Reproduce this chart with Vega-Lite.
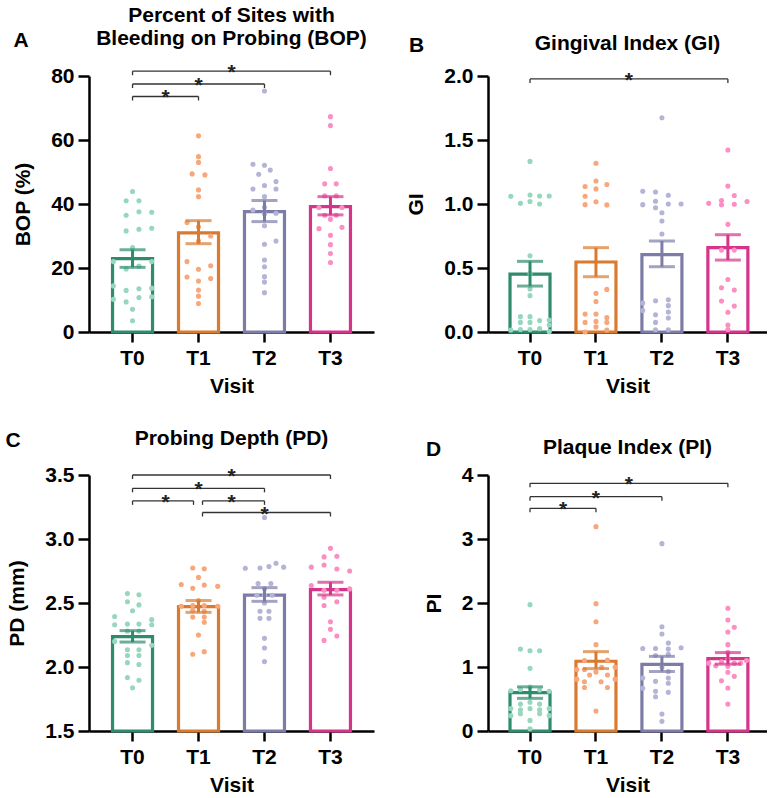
{
  "$schema": "https://vega.github.io/schema/vega-lite/v6.json",
  "padding": {"left": 5, "top": 5, "right": 0, "bottom": 0},
  "columns": 2,
  "bounds": "flush",
  "spacing": {"row": 143, "column": 114},
  "config": {
    "font": "Liberation Sans",
    "view": {"stroke": null},
    "axis": {"grid": false, "domainColor": "#000", "domainWidth": 2.5, "tickColor": "#000", "tickWidth": 2.5, "labelFont": "Liberation Sans", "labelFontSize": 21, "labelFontWeight": "bold", "labelColor": "#000", "titleFont": "Liberation Sans", "titleFontSize": 21, "titleFontWeight": "bold", "titleColor": "#000"},
    "axisX": {"tickSize": 10, "labelPadding": 5, "titlePadding": 7, "labelAngle": 0},
    "axisY": {"tickSize": 11, "labelPadding": 4, "titlePadding": 17},
    "title": {"font": "Liberation Sans", "fontSize": 21, "fontWeight": "bold", "color": "#000", "anchor": "middle", "frame": "group", "offset": -19, "lineHeight": 23}
  },
  "datasets": {
    "A_sum": [
      {"visit": "T0", "mean": 22.9, "lo": 20.2, "hi": 25.7},
      {"visit": "T1", "mean": 31.0, "lo": 27.6, "hi": 34.8},
      {"visit": "T2", "mean": 37.6, "lo": 34.5, "hi": 41.1},
      {"visit": "T3", "mean": 39.2, "lo": 36.6, "hi": 42.3}
    ],
    "A_br": [
      {"visit": "T0", "visit2": "T1", "level": 73.6, "mid": "T0.5"},
      {"visit": "T0", "visit2": "T2", "level": 77.5, "mid": "T1"},
      {"visit": "T0", "visit2": "T3", "level": 81.5, "mid": "T1.5"}
    ],
    "A_pts": [
      {"visit": "T0", "value": 43.9, "slot": 0}, {"visit": "T0", "value": 41.0, "slot": -1}, {"visit": "T0", "value": 41.0, "slot": 1},
      {"visit": "T0", "value": 36.5, "slot": -1}, {"visit": "T0", "value": 37.6, "slot": 1}, {"visit": "T0", "value": 37.4, "slot": 3},
      {"visit": "T0", "value": 31.6, "slot": -1}, {"visit": "T0", "value": 32.1, "slot": 1}, {"visit": "T0", "value": 32.4, "slot": 3},
      {"visit": "T0", "value": 26.4, "slot": 0}, {"visit": "T0", "value": 22.0, "slot": -3}, {"visit": "T0", "value": 22.0, "slot": 3},
      {"visit": "T0", "value": 19.7, "slot": -1}, {"visit": "T0", "value": 20.6, "slot": 1}, {"visit": "T0", "value": 14.4, "slot": -3},
      {"visit": "T0", "value": 13.7, "slot": 3}, {"visit": "T0", "value": 13.0, "slot": -1}, {"visit": "T0", "value": 13.5, "slot": 1},
      {"visit": "T0", "value": 10.2, "slot": -3}, {"visit": "T0", "value": 11.0, "slot": 3}, {"visit": "T0", "value": 9.4, "slot": -1},
      {"visit": "T0", "value": 10.8, "slot": 1}, {"visit": "T0", "value": 7.1, "slot": 0}, {"visit": "T0", "value": 3.5, "slot": 0},
      {"visit": "T1", "value": 61.3, "slot": 0}, {"visit": "T1", "value": 54.8, "slot": 0}, {"visit": "T1", "value": 53.0, "slot": 0},
      {"visit": "T1", "value": 49.4, "slot": -1}, {"visit": "T1", "value": 49.1, "slot": 1}, {"visit": "T1", "value": 44.4, "slot": 0},
      {"visit": "T1", "value": 42.3, "slot": 0}, {"visit": "T1", "value": 34.2, "slot": -1.8}, {"visit": "T1", "value": 32.9, "slot": 0},
      {"visit": "T1", "value": 30.0, "slot": 1.9}, {"visit": "T1", "value": 28.4, "slot": 0}, {"visit": "T1", "value": 22.0, "slot": -1.8},
      {"visit": "T1", "value": 20.7, "slot": 1.9}, {"visit": "T1", "value": 19.6, "slot": 0}, {"visit": "T1", "value": 17.2, "slot": -1.8},
      {"visit": "T1", "value": 16.7, "slot": 1.9}, {"visit": "T1", "value": 15.9, "slot": 0}, {"visit": "T1", "value": 13.1, "slot": 0},
      {"visit": "T1", "value": 11.2, "slot": 0}, {"visit": "T1", "value": 8.9, "slot": 0},
      {"visit": "T2", "value": 75.3, "slot": 0}, {"visit": "T2", "value": 52.4, "slot": -1.8}, {"visit": "T2", "value": 52.1, "slot": 0},
      {"visit": "T2", "value": 50.6, "slot": 0.9}, {"visit": "T2", "value": 49.3, "slot": -0.9}, {"visit": "T2", "value": 47.0, "slot": 1.8},
      {"visit": "T2", "value": 45.8, "slot": 0}, {"visit": "T2", "value": 44.7, "slot": -1.8}, {"visit": "T2", "value": 44.7, "slot": 1.8},
      {"visit": "T2", "value": 42.3, "slot": 0}, {"visit": "T2", "value": 39.0, "slot": 0}, {"visit": "T2", "value": 38.1, "slot": -1.8},
      {"visit": "T2", "value": 36.9, "slot": 0}, {"visit": "T2", "value": 37.1, "slot": 1.8}, {"visit": "T2", "value": 33.2, "slot": 0},
      {"visit": "T2", "value": 28.4, "slot": 1.8}, {"visit": "T2", "value": 27.4, "slot": 0}, {"visit": "T2", "value": 22.5, "slot": 0},
      {"visit": "T2", "value": 20.4, "slot": 0}, {"visit": "T2", "value": 17.3, "slot": 0}, {"visit": "T2", "value": 15.6, "slot": 0},
      {"visit": "T2", "value": 12.3, "slot": 0},
      {"visit": "T3", "value": 67.3, "slot": 0}, {"visit": "T3", "value": 64.5, "slot": 0}, {"visit": "T3", "value": 51.1, "slot": 0},
      {"visit": "T3", "value": 46.3, "slot": -0.9}, {"visit": "T3", "value": 46.3, "slot": 0.9}, {"visit": "T3", "value": 42.6, "slot": -0.9},
      {"visit": "T3", "value": 42.6, "slot": 0.9}, {"visit": "T3", "value": 38.9, "slot": -1.8}, {"visit": "T3", "value": 38.9, "slot": 1.8},
      {"visit": "T3", "value": 36.5, "slot": -0.9}, {"visit": "T3", "value": 36.5, "slot": 0.9}, {"visit": "T3", "value": 35.2, "slot": 0},
      {"visit": "T3", "value": 32.3, "slot": -1.8}, {"visit": "T3", "value": 32.7, "slot": 1.8}, {"visit": "T3", "value": 30.2, "slot": 0},
      {"visit": "T3", "value": 27.3, "slot": 0}, {"visit": "T3", "value": 24.5, "slot": 0}, {"visit": "T3", "value": 21.7, "slot": 0}
    ],
    "B_sum": [
      {"visit": "T0", "mean": 0.452, "lo": 0.359, "hi": 0.552},
      {"visit": "T1", "mean": 0.547, "lo": 0.432, "hi": 0.659},
      {"visit": "T2", "mean": 0.605, "lo": 0.51, "hi": 0.711},
      {"visit": "T3", "mean": 0.659, "lo": 0.562, "hi": 0.76}
    ],
    "B_br": [
      {"visit": "T0", "visit2": "T3", "level": 1.977, "mid": "T1.5"}
    ],
    "B_pts": [
      {"visit": "T0", "value": 1.333, "slot": 0}, {"visit": "T0", "value": 1.06, "slot": -3}, {"visit": "T0", "value": 1.07, "slot": 0},
      {"visit": "T0", "value": 1.063, "slot": 1.5}, {"visit": "T0", "value": 1.063, "slot": 3}, {"visit": "T0", "value": 1.005, "slot": -1.5},
      {"visit": "T0", "value": 1.02, "slot": 0}, {"visit": "T0", "value": 1.0, "slot": 1.5}, {"visit": "T0", "value": 0.596, "slot": 0},
      {"visit": "T0", "value": 0.458, "slot": 0}, {"visit": "T0", "value": 0.336, "slot": 0}, {"visit": "T0", "value": 0.284, "slot": 0},
      {"visit": "T0", "value": 0.12, "slot": -1.5}, {"visit": "T0", "value": 0.12, "slot": 0}, {"visit": "T0", "value": 0.089, "slot": 1.5},
      {"visit": "T0", "value": 0.094, "slot": 3}, {"visit": "T0", "value": 0.075, "slot": -1.5}, {"visit": "T0", "value": 0.075, "slot": 0},
      {"visit": "T0", "value": 0.055, "slot": 3}, {"visit": "T0", "value": 0.016, "slot": -3}, {"visit": "T0", "value": 0.02, "slot": -1.5},
      {"visit": "T0", "value": 0.02, "slot": 0}, {"visit": "T0", "value": 0.026, "slot": 1.5}, {"visit": "T0", "value": 0.003, "slot": 3},
      {"visit": "T1", "value": 1.318, "slot": 0}, {"visit": "T1", "value": 1.18, "slot": 0}, {"visit": "T1", "value": 1.137, "slot": -1.7},
      {"visit": "T1", "value": 1.118, "slot": 0}, {"visit": "T1", "value": 1.152, "slot": 1.7}, {"visit": "T1", "value": 1.06, "slot": -1.7},
      {"visit": "T1", "value": 1.018, "slot": 0}, {"visit": "T1", "value": 0.995, "slot": -1.7}, {"visit": "T1", "value": 0.993, "slot": 1.7},
      {"visit": "T1", "value": 0.333, "slot": 1.7}, {"visit": "T1", "value": 0.302, "slot": 0}, {"visit": "T1", "value": 0.238, "slot": 0},
      {"visit": "T1", "value": 0.14, "slot": -1.7}, {"visit": "T1", "value": 0.14, "slot": 0}, {"visit": "T1", "value": 0.112, "slot": 1.7},
      {"visit": "T1", "value": 0.075, "slot": -1.7}, {"visit": "T1", "value": 0.083, "slot": 0}, {"visit": "T1", "value": 0.075, "slot": 1.7},
      {"visit": "T1", "value": 0.0, "slot": -1.7}, {"visit": "T1", "value": 0.04, "slot": 0}, {"visit": "T1", "value": 0.016, "slot": 1.7},
      {"visit": "T2", "value": 1.674, "slot": 0}, {"visit": "T2", "value": 1.10, "slot": -3}, {"visit": "T2", "value": 1.094, "slot": -1},
      {"visit": "T2", "value": 1.068, "slot": 1}, {"visit": "T2", "value": 0.995, "slot": -3}, {"visit": "T2", "value": 1.021, "slot": -1},
      {"visit": "T2", "value": 1.0, "slot": 1}, {"visit": "T2", "value": 1.0, "slot": 3}, {"visit": "T2", "value": 0.971, "slot": -1},
      {"visit": "T2", "value": 0.932, "slot": 0}, {"visit": "T2", "value": 0.867, "slot": 0}, {"visit": "T2", "value": 0.766, "slot": 0},
      {"visit": "T2", "value": 0.226, "slot": -3}, {"visit": "T2", "value": 0.244, "slot": -1}, {"visit": "T2", "value": 0.252, "slot": 1},
      {"visit": "T2", "value": 0.206, "slot": 1}, {"visit": "T2", "value": 0.167, "slot": -3}, {"visit": "T2", "value": 0.135, "slot": -1},
      {"visit": "T2", "value": 0.156, "slot": 1}, {"visit": "T2", "value": 0.109, "slot": 1}, {"visit": "T2", "value": 0.075, "slot": -1},
      {"visit": "T2", "value": 0.018, "slot": -1}, {"visit": "T2", "value": 0.018, "slot": 1},
      {"visit": "T3", "value": 1.422, "slot": 0}, {"visit": "T3", "value": 1.14, "slot": 0}, {"visit": "T3", "value": 1.066, "slot": 1},
      {"visit": "T3", "value": 1.027, "slot": -1}, {"visit": "T3", "value": 1.005, "slot": -3}, {"visit": "T3", "value": 0.998, "slot": 1},
      {"visit": "T3", "value": 1.019, "slot": 3}, {"visit": "T3", "value": 0.994, "slot": -1}, {"visit": "T3", "value": 0.841, "slot": 0},
      {"visit": "T3", "value": 0.64, "slot": -1}, {"visit": "T3", "value": 0.64, "slot": 1}, {"visit": "T3", "value": 0.41, "slot": 0},
      {"visit": "T3", "value": 0.346, "slot": -1}, {"visit": "T3", "value": 0.328, "slot": 1}, {"visit": "T3", "value": 0.242, "slot": -1},
      {"visit": "T3", "value": 0.203, "slot": 1}, {"visit": "T3", "value": 0.154, "slot": 0}, {"visit": "T3", "value": 0.055, "slot": 0},
      {"visit": "T3", "value": 0.02, "slot": 0}
    ],
    "C_sum": [
      {"visit": "T0", "mean": 2.238, "lo": 2.195, "hi": 2.284},
      {"visit": "T1", "mean": 2.472, "lo": 2.427, "hi": 2.519},
      {"visit": "T2", "mean": 2.562, "lo": 2.513, "hi": 2.62},
      {"visit": "T3", "mean": 2.605, "lo": 2.563, "hi": 2.662}
    ],
    "C_br": [
      {"visit": "T0", "visit2": "T3", "level": 3.5, "mid": "T1.5"},
      {"visit": "T0", "visit2": "T2", "level": 3.396, "mid": "T1"},
      {"visit": "T0", "visit2": "T1", "level": 3.298, "mid": "T0.5"},
      {"visit": "T1", "visit2": "T2", "level": 3.298, "mid": "T1.5"},
      {"visit": "T1", "visit2": "T3", "level": 3.207, "mid": "T2"}
    ],
    "C_pts": [
      {"visit": "T0", "value": 2.574, "slot": -0.8}, {"visit": "T0", "value": 2.564, "slot": 1}, {"visit": "T0", "value": 2.51, "slot": -0.8},
      {"visit": "T0", "value": 2.485, "slot": 1}, {"visit": "T0", "value": 2.44, "slot": 0}, {"visit": "T0", "value": 2.395, "slot": -2.8},
      {"visit": "T0", "value": 2.37, "slot": 3}, {"visit": "T0", "value": 2.335, "slot": -0.8}, {"visit": "T0", "value": 2.335, "slot": 1},
      {"visit": "T0", "value": 2.33, "slot": -2.8}, {"visit": "T0", "value": 2.33, "slot": 3}, {"visit": "T0", "value": 2.28, "slot": -0.8},
      {"visit": "T0", "value": 2.28, "slot": 1}, {"visit": "T0", "value": 2.2, "slot": -2.8}, {"visit": "T0", "value": 2.17, "slot": 3},
      {"visit": "T0", "value": 2.135, "slot": -0.8}, {"visit": "T0", "value": 2.135, "slot": 1}, {"visit": "T0", "value": 2.09, "slot": -0.8},
      {"visit": "T0", "value": 2.09, "slot": 1}, {"visit": "T0", "value": 2.034, "slot": -0.8}, {"visit": "T0", "value": 2.02, "slot": 1},
      {"visit": "T0", "value": 1.918, "slot": -0.8}, {"visit": "T0", "value": 1.897, "slot": 1}, {"visit": "T0", "value": 1.837, "slot": 0},
      {"visit": "T1", "value": 2.774, "slot": -0.9}, {"visit": "T1", "value": 2.768, "slot": 0.9}, {"visit": "T1", "value": 2.70, "slot": 0},
      {"visit": "T1", "value": 2.644, "slot": -2.7}, {"visit": "T1", "value": 2.615, "slot": -0.9}, {"visit": "T1", "value": 2.64, "slot": 0.9},
      {"visit": "T1", "value": 2.63, "slot": 3}, {"visit": "T1", "value": 2.52, "slot": 0}, {"visit": "T1", "value": 2.475, "slot": -2.7},
      {"visit": "T1", "value": 2.48, "slot": -0.9}, {"visit": "T1", "value": 2.48, "slot": 0.9}, {"visit": "T1", "value": 2.475, "slot": 3},
      {"visit": "T1", "value": 2.444, "slot": -0.9}, {"visit": "T1", "value": 2.436, "slot": 0.9}, {"visit": "T1", "value": 2.39, "slot": -0.9},
      {"visit": "T1", "value": 2.39, "slot": 0.9}, {"visit": "T1", "value": 2.35, "slot": 0.9}, {"visit": "T1", "value": 2.25, "slot": 0},
      {"visit": "T1", "value": 2.10, "slot": -0.9}, {"visit": "T1", "value": 2.12, "slot": 0.9},
      {"visit": "T2", "value": 3.168, "slot": 0}, {"visit": "T2", "value": 2.771, "slot": -3}, {"visit": "T2", "value": 2.774, "slot": -0.7},
      {"visit": "T2", "value": 2.785, "slot": 0.7}, {"visit": "T2", "value": 2.81, "slot": 1.8}, {"visit": "T2", "value": 2.78, "slot": 3},
      {"visit": "T2", "value": 2.652, "slot": -1}, {"visit": "T2", "value": 2.652, "slot": 1}, {"visit": "T2", "value": 2.61, "slot": 0},
      {"visit": "T2", "value": 2.56, "slot": -1.2}, {"visit": "T2", "value": 2.56, "slot": 0}, {"visit": "T2", "value": 2.56, "slot": 1.2},
      {"visit": "T2", "value": 2.50, "slot": 0}, {"visit": "T2", "value": 2.436, "slot": -0.7}, {"visit": "T2", "value": 2.436, "slot": 0.7},
      {"visit": "T2", "value": 2.38, "slot": -0.7}, {"visit": "T2", "value": 2.38, "slot": 0.7}, {"visit": "T2", "value": 2.224, "slot": 0},
      {"visit": "T2", "value": 2.149, "slot": 0}, {"visit": "T2", "value": 2.042, "slot": 0},
      {"visit": "T3", "value": 2.927, "slot": 0}, {"visit": "T3", "value": 2.86, "slot": -1}, {"visit": "T3", "value": 2.865, "slot": 1},
      {"visit": "T3", "value": 2.78, "slot": -3}, {"visit": "T3", "value": 2.797, "slot": -1}, {"visit": "T3", "value": 2.766, "slot": 1},
      {"visit": "T3", "value": 2.75, "slot": 3}, {"visit": "T3", "value": 2.636, "slot": -3}, {"visit": "T3", "value": 2.60, "slot": -1},
      {"visit": "T3", "value": 2.60, "slot": 1}, {"visit": "T3", "value": 2.61, "slot": 3}, {"visit": "T3", "value": 2.545, "slot": -1},
      {"visit": "T3", "value": 2.51, "slot": 1}, {"visit": "T3", "value": 2.48, "slot": -1}, {"visit": "T3", "value": 2.353, "slot": 0},
      {"visit": "T3", "value": 2.294, "slot": 0}, {"visit": "T3", "value": 2.242, "slot": 1}, {"visit": "T3", "value": 2.208, "slot": -1}
    ],
    "D_sum": [
      {"visit": "T0", "mean": 0.6, "lo": 0.51, "hi": 0.69},
      {"visit": "T1", "mean": 1.09, "lo": 0.975, "hi": 1.24},
      {"visit": "T2", "mean": 1.04, "lo": 0.93, "hi": 1.166},
      {"visit": "T3", "mean": 1.132, "lo": 1.045, "hi": 1.225}
    ],
    "D_br": [
      {"visit": "T0", "visit2": "T1", "level": 3.48, "mid": "T0.5"},
      {"visit": "T0", "visit2": "T2", "level": 3.662, "mid": "T1"},
      {"visit": "T0", "visit2": "T3", "level": 3.87, "mid": "T1.5"}
    ],
    "D_pts": [
      {"visit": "T0", "value": 1.974, "slot": 0}, {"visit": "T0", "value": 1.28, "slot": -1.5}, {"visit": "T0", "value": 1.255, "slot": 0},
      {"visit": "T0", "value": 1.255, "slot": 1.5}, {"visit": "T0", "value": 0.979, "slot": 0}, {"visit": "T0", "value": 0.63, "slot": -3},
      {"visit": "T0", "value": 0.687, "slot": 0}, {"visit": "T0", "value": 0.65, "slot": -1.5}, {"visit": "T0", "value": 0.62, "slot": 3},
      {"visit": "T0", "value": 0.64, "slot": 1.5}, {"visit": "T0", "value": 0.45, "slot": 0}, {"visit": "T0", "value": 0.42, "slot": -1.5},
      {"visit": "T0", "value": 0.42, "slot": 1.5}, {"visit": "T0", "value": 0.35, "slot": -3}, {"visit": "T0", "value": 0.35, "slot": 0},
      {"visit": "T0", "value": 0.35, "slot": 3}, {"visit": "T0", "value": 0.33, "slot": -1.5}, {"visit": "T0", "value": 0.33, "slot": 1.5},
      {"visit": "T0", "value": 0.24, "slot": -3}, {"visit": "T0", "value": 0.27, "slot": -1.5}, {"visit": "T0", "value": 0.27, "slot": 1.5},
      {"visit": "T0", "value": 0.24, "slot": 3}, {"visit": "T0", "value": 0.166, "slot": 0}, {"visit": "T0", "value": 0.036, "slot": 0},
      {"visit": "T1", "value": 3.193, "slot": 0}, {"visit": "T1", "value": 1.99, "slot": 0}, {"visit": "T1", "value": 1.708, "slot": 0},
      {"visit": "T1", "value": 1.349, "slot": 0}, {"visit": "T1", "value": 1.10, "slot": -1.8}, {"visit": "T1", "value": 1.11, "slot": 1.8},
      {"visit": "T1", "value": 0.96, "slot": -3}, {"visit": "T1", "value": 0.96, "slot": -1.8}, {"visit": "T1", "value": 0.995, "slot": 0.9},
      {"visit": "T1", "value": 0.995, "slot": 3}, {"visit": "T1", "value": 0.92, "slot": 0}, {"visit": "T1", "value": 0.875, "slot": -1},
      {"visit": "T1", "value": 0.875, "slot": 1.8}, {"visit": "T1", "value": 0.81, "slot": -3}, {"visit": "T1", "value": 0.81, "slot": 3},
      {"visit": "T1", "value": 0.77, "slot": -1.8}, {"visit": "T1", "value": 0.77, "slot": 0.8}, {"visit": "T1", "value": 0.68, "slot": -1.8},
      {"visit": "T1", "value": 0.68, "slot": 1.8}, {"visit": "T1", "value": 0.312, "slot": 0},
      {"visit": "T2", "value": 2.927, "slot": 0}, {"visit": "T2", "value": 1.63, "slot": 0}, {"visit": "T2", "value": 1.516, "slot": 0},
      {"visit": "T2", "value": 1.375, "slot": 1}, {"visit": "T2", "value": 1.29, "slot": -3}, {"visit": "T2", "value": 1.29, "slot": -1},
      {"visit": "T2", "value": 1.30, "slot": 3}, {"visit": "T2", "value": 1.28, "slot": 1}, {"visit": "T2", "value": 1.18, "slot": -1},
      {"visit": "T2", "value": 1.20, "slot": 1}, {"visit": "T2", "value": 1.0, "slot": 0}, {"visit": "T2", "value": 0.93, "slot": 1},
      {"visit": "T2", "value": 0.828, "slot": -3}, {"visit": "T2", "value": 0.828, "slot": 1}, {"visit": "T2", "value": 0.776, "slot": -1},
      {"visit": "T2", "value": 0.745, "slot": 1}, {"visit": "T2", "value": 0.667, "slot": -3}, {"visit": "T2", "value": 0.62, "slot": -1},
      {"visit": "T2", "value": 0.604, "slot": 1}, {"visit": "T2", "value": 0.536, "slot": -1}, {"visit": "T2", "value": 0.266, "slot": 0},
      {"visit": "T2", "value": 0.151, "slot": 0},
      {"visit": "T3", "value": 1.917, "slot": 0}, {"visit": "T3", "value": 1.734, "slot": 0}, {"visit": "T3", "value": 1.62, "slot": 1},
      {"visit": "T3", "value": 1.547, "slot": 0}, {"visit": "T3", "value": 1.349, "slot": 0}, {"visit": "T3", "value": 1.23, "slot": 0},
      {"visit": "T3", "value": 1.10, "slot": 2.9}, {"visit": "T3", "value": 1.06, "slot": -3}, {"visit": "T3", "value": 1.02, "slot": -1.9},
      {"visit": "T3", "value": 1.083, "slot": -1}, {"visit": "T3", "value": 1.06, "slot": 1}, {"visit": "T3", "value": 1.06, "slot": 2},
      {"visit": "T3", "value": 1.125, "slot": 0}, {"visit": "T3", "value": 1.01, "slot": 0}, {"visit": "T3", "value": 0.917, "slot": 0},
      {"visit": "T3", "value": 0.854, "slot": 1}, {"visit": "T3", "value": 0.786, "slot": -1}, {"visit": "T3", "value": 0.672, "slot": 0},
      {"visit": "T3", "value": 0.42, "slot": 0}
    ]
  },
  "concat": [
    {
      "width": 285, "height": 256,
      "title": {"text": ["Percent of Sites with", "Bleeding on Probing (BOP)"]},
      "layer": [
        {"data": {"name": "A_sum"}, "mark": {"type": "bar", "width": 40, "fill": "white", "strokeWidth": 3.2},
         "encoding": {
           "x": {"field": "visit", "type": "nominal", "title": "Visit", "scale": {"domain": ["T0","T0.5","T1","T1.5","T2","T2.5","T3"], "paddingInner": 0, "paddingOuter": 0.82, "align": 0.5}, "axis": {"values": ["T0","T1","T2","T3"]}},
           "y": {"field": "mean", "type": "quantitative", "title": "BOP (%)", "scale": {"domain": [0, 80], "nice": false}, "axis": {"values": [0,20,40,60,80]}},
           "stroke": {"field": "visit", "type": "nominal", "scale": {"domain": ["T0","T1","T2","T3"], "range": ["#2e8b6e","#d97a2f","#7c7ca8","#d6338a"]}, "legend": null}}},
        {"data": {"name": "A_pts"}, "mark": {"type": "point", "filled": true, "size": 26, "opacity": 1},
         "encoding": {
           "x": {"field": "visit", "type": "nominal", "title": "Visit"},
           "xOffset": {"field": "slot", "type": "quantitative", "scale": {"domain": [-2.58, 2.58]}},
           "y": {"field": "value", "type": "quantitative", "title": "BOP (%)"},
           "fill": {"field": "visit", "type": "nominal", "scale": {"domain": ["T0","T1","T2","T3"], "range": ["#97d7bd","#f8a67b","#b4b4d6","#fb8fc3"]}, "legend": null}}},
        {"data": {"name": "A_sum"}, "mark": {"type": "rule", "strokeWidth": 3},
         "encoding": {
           "x": {"field": "visit", "type": "nominal", "title": "Visit"},
           "y": {"field": "lo", "type": "quantitative", "title": "BOP (%)"}, "y2": {"field": "hi"},
           "stroke": {"field": "visit", "type": "nominal", "legend": null}}},
        {"data": {"name": "A_sum"}, "mark": {"type": "tick", "size": 26, "thickness": 3},
         "encoding": {
           "x": {"field": "visit", "type": "nominal", "title": "Visit"},
           "y": {"field": "lo", "type": "quantitative", "title": "BOP (%)"},
           "color": {"field": "visit", "type": "nominal", "scale": {"domain": ["T0","T1","T2","T3"], "range": ["#2e8b6e","#d97a2f","#7c7ca8","#d6338a"]}, "legend": null}}},
        {"data": {"name": "A_sum"}, "mark": {"type": "tick", "size": 26, "thickness": 3},
         "encoding": {
           "x": {"field": "visit", "type": "nominal", "title": "Visit"},
           "y": {"field": "hi", "type": "quantitative", "title": "BOP (%)"},
           "color": {"field": "visit", "type": "nominal", "legend": null}}},
        {"data": {"name": "A_br"}, "mark": {"type": "rule", "strokeWidth": 1.3, "color": "#333"},
         "encoding": {
           "x": {"field": "visit", "type": "nominal", "title": "Visit"}, "x2": {"field": "visit2"},
           "y": {"field": "level", "type": "quantitative", "title": "BOP (%)"}}},
        {"data": {"name": "A_br"}, "mark": {"type": "rule", "strokeWidth": 1.3, "color": "#333", "y2Offset": 4},
         "encoding": {
           "x": {"field": "visit", "type": "nominal", "title": "Visit"},
           "y": {"field": "level", "type": "quantitative", "title": "BOP (%)"}, "y2": {"field": "level"}}},
        {"data": {"name": "A_br"}, "mark": {"type": "rule", "strokeWidth": 1.3, "color": "#333", "y2Offset": 4},
         "encoding": {
           "x": {"field": "visit2", "type": "nominal", "title": "Visit"},
           "y": {"field": "level", "type": "quantitative", "title": "BOP (%)"}, "y2": {"field": "level"}}},
        {"data": {"name": "A_br"}, "mark": {"type": "text", "text": "*", "fontSize": 21, "fontWeight": "bold", "baseline": "alphabetic", "dy": 8, "color": "#222"},
         "encoding": {
           "x": {"field": "mid", "type": "nominal", "title": "Visit"},
           "y": {"field": "level", "type": "quantitative", "title": "BOP (%)"}}},
        {"data": {"values": [{"t": "A"}]}, "mark": {"type": "text", "align": "left", "baseline": "alphabetic", "dx": -119, "dy": -29, "fontSize": 21, "fontWeight": "bold", "color": "#000"},
         "encoding": {
           "x": {"datum": "T0", "type": "nominal", "title": "Visit"},
           "y": {"datum": 80, "type": "quantitative", "title": "BOP (%)"},
           "text": {"field": "t"}}}
      ]
    },
    {
      "width": 279, "height": 256,
      "title": {"text": "Gingival Index (GI)"},
      "layer": [
        {"data": {"name": "B_sum"}, "mark": {"type": "bar", "width": 40, "fill": "white", "strokeWidth": 3.2},
         "encoding": {
           "x": {"field": "visit", "type": "nominal", "title": "Visit", "scale": {"domain": ["T0","T0.5","T1","T1.5","T2","T2.5","T3"], "paddingInner": 0, "paddingOuter": 0.73, "align": 0.53}, "axis": {"values": ["T0","T1","T2","T3"]}},
           "y": {"field": "mean", "type": "quantitative", "title": "GI", "scale": {"domain": [0, 2], "nice": false}, "axis": {"values": [0,0.5,1,1.5,2], "format": ".1f"}},
           "stroke": {"field": "visit", "type": "nominal", "scale": {"domain": ["T0","T1","T2","T3"], "range": ["#2e8b6e","#d97a2f","#7c7ca8","#d6338a"]}, "legend": null}}},
        {"data": {"name": "B_pts"}, "mark": {"type": "point", "filled": true, "size": 26, "opacity": 1},
         "encoding": {
           "x": {"field": "visit", "type": "nominal", "title": "Visit"},
           "xOffset": {"field": "slot", "type": "quantitative", "scale": {"domain": [-2.58, 2.58]}},
           "y": {"field": "value", "type": "quantitative", "title": "GI"},
           "fill": {"field": "visit", "type": "nominal", "scale": {"domain": ["T0","T1","T2","T3"], "range": ["#97d7bd","#f8a67b","#b4b4d6","#fb8fc3"]}, "legend": null}}},
        {"data": {"name": "B_sum"}, "mark": {"type": "rule", "strokeWidth": 3},
         "encoding": {
           "x": {"field": "visit", "type": "nominal", "title": "Visit"},
           "y": {"field": "lo", "type": "quantitative", "title": "GI"}, "y2": {"field": "hi"},
           "stroke": {"field": "visit", "type": "nominal", "legend": null}}},
        {"data": {"name": "B_sum"}, "mark": {"type": "tick", "size": 26, "thickness": 3},
         "encoding": {
           "x": {"field": "visit", "type": "nominal", "title": "Visit"},
           "y": {"field": "lo", "type": "quantitative", "title": "GI"},
           "color": {"field": "visit", "type": "nominal", "scale": {"domain": ["T0","T1","T2","T3"], "range": ["#2e8b6e","#d97a2f","#7c7ca8","#d6338a"]}, "legend": null}}},
        {"data": {"name": "B_sum"}, "mark": {"type": "tick", "size": 26, "thickness": 3},
         "encoding": {
           "x": {"field": "visit", "type": "nominal", "title": "Visit"},
           "y": {"field": "hi", "type": "quantitative", "title": "GI"},
           "color": {"field": "visit", "type": "nominal", "legend": null}}},
        {"data": {"name": "B_br"}, "mark": {"type": "rule", "strokeWidth": 1.3, "color": "#333"},
         "encoding": {
           "x": {"field": "visit", "type": "nominal", "title": "Visit"}, "x2": {"field": "visit2"},
           "y": {"field": "level", "type": "quantitative", "title": "GI"}}},
        {"data": {"name": "B_br"}, "mark": {"type": "rule", "strokeWidth": 1.3, "color": "#333", "y2Offset": 4},
         "encoding": {
           "x": {"field": "visit", "type": "nominal", "title": "Visit"},
           "y": {"field": "level", "type": "quantitative", "title": "GI"}, "y2": {"field": "level"}}},
        {"data": {"name": "B_br"}, "mark": {"type": "rule", "strokeWidth": 1.3, "color": "#333", "y2Offset": 4},
         "encoding": {
           "x": {"field": "visit2", "type": "nominal", "title": "Visit"},
           "y": {"field": "level", "type": "quantitative", "title": "GI"}, "y2": {"field": "level"}}},
        {"data": {"name": "B_br"}, "mark": {"type": "text", "text": "*", "fontSize": 21, "fontWeight": "bold", "baseline": "alphabetic", "dy": 8, "color": "#222"},
         "encoding": {
           "x": {"field": "mid", "type": "nominal", "title": "Visit"},
           "y": {"field": "level", "type": "quantitative", "title": "GI"}}},
        {"data": {"values": [{"t": "B"}]}, "mark": {"type": "text", "align": "left", "baseline": "alphabetic", "dx": -121, "dy": -24, "fontSize": 21, "fontWeight": "bold", "color": "#000"},
         "encoding": {
           "x": {"datum": "T0", "type": "nominal", "title": "Visit"},
           "y": {"datum": 2, "type": "quantitative", "title": "GI"},
           "text": {"field": "t"}}}
      ]
    },
    {
      "width": 285, "height": 256,
      "title": {"text": "Probing Depth (PD)"},
      "layer": [
        {"data": {"name": "C_sum"}, "mark": {"type": "bar", "width": 40, "fill": "white", "strokeWidth": 3.2},
         "encoding": {
           "x": {"field": "visit", "type": "nominal", "title": "Visit", "scale": {"domain": ["T0","T0.5","T1","T1.5","T2","T2.5","T3"], "paddingInner": 0, "paddingOuter": 0.82, "align": 0.5}, "axis": {"values": ["T0","T1","T2","T3"]}},
           "y": {"field": "mean", "type": "quantitative", "title": "PD (mm)", "scale": {"domain": [1.5, 3.5], "nice": false, "zero": false}, "axis": {"values": [1.5,2,2.5,3,3.5], "format": ".1f"}},
           "y2": {"datum": 1.5},
           "stroke": {"field": "visit", "type": "nominal", "scale": {"domain": ["T0","T1","T2","T3"], "range": ["#2e8b6e","#d97a2f","#7c7ca8","#d6338a"]}, "legend": null}}},
        {"data": {"name": "C_pts"}, "mark": {"type": "point", "filled": true, "size": 26, "opacity": 1},
         "encoding": {
           "x": {"field": "visit", "type": "nominal", "title": "Visit"},
           "xOffset": {"field": "slot", "type": "quantitative", "scale": {"domain": [-2.58, 2.58]}},
           "y": {"field": "value", "type": "quantitative", "title": "PD (mm)"},
           "fill": {"field": "visit", "type": "nominal", "scale": {"domain": ["T0","T1","T2","T3"], "range": ["#97d7bd","#f8a67b","#b4b4d6","#fb8fc3"]}, "legend": null}}},
        {"data": {"name": "C_sum"}, "mark": {"type": "rule", "strokeWidth": 3},
         "encoding": {
           "x": {"field": "visit", "type": "nominal", "title": "Visit"},
           "y": {"field": "lo", "type": "quantitative", "title": "PD (mm)"}, "y2": {"field": "hi"},
           "stroke": {"field": "visit", "type": "nominal", "legend": null}}},
        {"data": {"name": "C_sum"}, "mark": {"type": "tick", "size": 26, "thickness": 3},
         "encoding": {
           "x": {"field": "visit", "type": "nominal", "title": "Visit"},
           "y": {"field": "lo", "type": "quantitative", "title": "PD (mm)"},
           "color": {"field": "visit", "type": "nominal", "scale": {"domain": ["T0","T1","T2","T3"], "range": ["#2e8b6e","#d97a2f","#7c7ca8","#d6338a"]}, "legend": null}}},
        {"data": {"name": "C_sum"}, "mark": {"type": "tick", "size": 26, "thickness": 3},
         "encoding": {
           "x": {"field": "visit", "type": "nominal", "title": "Visit"},
           "y": {"field": "hi", "type": "quantitative", "title": "PD (mm)"},
           "color": {"field": "visit", "type": "nominal", "legend": null}}},
        {"data": {"name": "C_br"}, "transform": [{"filter": "datum.visit != 'T1' && datum.visit2 != 'T1'"}], "mark": {"type": "rule", "strokeWidth": 1.3, "color": "#333"},
         "encoding": {
           "x": {"field": "visit", "type": "nominal", "title": "Visit"}, "x2": {"field": "visit2"},
           "y": {"field": "level", "type": "quantitative", "title": "PD (mm)"}}},
        {"data": {"name": "C_br"}, "transform": [{"filter": "datum.visit2 == 'T1'"}], "mark": {"type": "rule", "strokeWidth": 1.3, "color": "#333", "x2Offset": -5},
         "encoding": {
           "x": {"field": "visit", "type": "nominal", "title": "Visit"}, "x2": {"field": "visit2"},
           "y": {"field": "level", "type": "quantitative", "title": "PD (mm)"}}},
        {"data": {"name": "C_br"}, "transform": [{"filter": "datum.visit == 'T1'"}], "mark": {"type": "rule", "strokeWidth": 1.3, "color": "#333", "xOffset": 4},
         "encoding": {
           "x": {"field": "visit", "type": "nominal", "title": "Visit"}, "x2": {"field": "visit2"},
           "y": {"field": "level", "type": "quantitative", "title": "PD (mm)"}}},
        {"data": {"name": "C_br"}, "transform": [{"filter": "datum.visit == 'T0'"}], "mark": {"type": "rule", "strokeWidth": 1.3, "color": "#333", "y2Offset": 4},
         "encoding": {
           "x": {"field": "visit", "type": "nominal", "title": "Visit"},
           "y": {"field": "level", "type": "quantitative", "title": "PD (mm)"}, "y2": {"field": "level"}}},
        {"data": {"name": "C_br"}, "transform": [{"filter": "datum.visit == 'T1'"}], "mark": {"type": "rule", "strokeWidth": 1.3, "color": "#333", "y2Offset": 4, "xOffset": 4},
         "encoding": {
           "x": {"field": "visit", "type": "nominal", "title": "Visit"},
           "y": {"field": "level", "type": "quantitative", "title": "PD (mm)"}, "y2": {"field": "level"}}},
        {"data": {"name": "C_br"}, "transform": [{"filter": "datum.visit2 != 'T1'"}], "mark": {"type": "rule", "strokeWidth": 1.3, "color": "#333", "y2Offset": 4},
         "encoding": {
           "x": {"field": "visit2", "type": "nominal", "title": "Visit"},
           "y": {"field": "level", "type": "quantitative", "title": "PD (mm)"}, "y2": {"field": "level"}}},
        {"data": {"name": "C_br"}, "transform": [{"filter": "datum.visit2 == 'T1'"}], "mark": {"type": "rule", "strokeWidth": 1.3, "color": "#333", "y2Offset": 4, "xOffset": -5},
         "encoding": {
           "x": {"field": "visit2", "type": "nominal", "title": "Visit"},
           "y": {"field": "level", "type": "quantitative", "title": "PD (mm)"}, "y2": {"field": "level"}}},
        {"data": {"name": "C_br"}, "mark": {"type": "text", "text": "*", "fontSize": 21, "fontWeight": "bold", "baseline": "alphabetic", "dy": 8, "color": "#222"},
         "encoding": {
           "x": {"field": "mid", "type": "nominal", "title": "Visit"},
           "y": {"field": "level", "type": "quantitative", "title": "PD (mm)"}}},
        {"data": {"values": [{"t": "C"}]}, "mark": {"type": "text", "align": "left", "baseline": "alphabetic", "dx": -127, "dy": -28, "fontSize": 21, "fontWeight": "bold", "color": "#000"},
         "encoding": {
           "x": {"datum": "T0", "type": "nominal", "title": "Visit"},
           "y": {"datum": 3.5, "type": "quantitative", "title": "PD (mm)"},
           "text": {"field": "t"}}}
      ]
    },
    {
      "width": 279, "height": 256,
      "title": {"text": "Plaque Index (PI)"},
      "layer": [
        {"data": {"name": "D_sum"}, "mark": {"type": "bar", "width": 40, "fill": "white", "strokeWidth": 3.2},
         "encoding": {
           "x": {"field": "visit", "type": "nominal", "title": "Visit", "scale": {"domain": ["T0","T0.5","T1","T1.5","T2","T2.5","T3"], "paddingInner": 0, "paddingOuter": 0.73, "align": 0.53}, "axis": {"values": ["T0","T1","T2","T3"]}},
           "y": {"field": "mean", "type": "quantitative", "title": "PI", "scale": {"domain": [0, 4], "nice": false}, "axis": {"values": [0,1,2,3,4], "format": "d"}},
           "stroke": {"field": "visit", "type": "nominal", "scale": {"domain": ["T0","T1","T2","T3"], "range": ["#2e8b6e","#d97a2f","#7c7ca8","#d6338a"]}, "legend": null}}},
        {"data": {"name": "D_pts"}, "mark": {"type": "point", "filled": true, "size": 26, "opacity": 1},
         "encoding": {
           "x": {"field": "visit", "type": "nominal", "title": "Visit"},
           "xOffset": {"field": "slot", "type": "quantitative", "scale": {"domain": [-2.58, 2.58]}},
           "y": {"field": "value", "type": "quantitative", "title": "PI"},
           "fill": {"field": "visit", "type": "nominal", "scale": {"domain": ["T0","T1","T2","T3"], "range": ["#97d7bd","#f8a67b","#b4b4d6","#fb8fc3"]}, "legend": null}}},
        {"data": {"name": "D_sum"}, "mark": {"type": "rule", "strokeWidth": 3},
         "encoding": {
           "x": {"field": "visit", "type": "nominal", "title": "Visit"},
           "y": {"field": "lo", "type": "quantitative", "title": "PI"}, "y2": {"field": "hi"},
           "stroke": {"field": "visit", "type": "nominal", "legend": null}}},
        {"data": {"name": "D_sum"}, "mark": {"type": "tick", "size": 26, "thickness": 3},
         "encoding": {
           "x": {"field": "visit", "type": "nominal", "title": "Visit"},
           "y": {"field": "lo", "type": "quantitative", "title": "PI"},
           "color": {"field": "visit", "type": "nominal", "scale": {"domain": ["T0","T1","T2","T3"], "range": ["#2e8b6e","#d97a2f","#7c7ca8","#d6338a"]}, "legend": null}}},
        {"data": {"name": "D_sum"}, "mark": {"type": "tick", "size": 26, "thickness": 3},
         "encoding": {
           "x": {"field": "visit", "type": "nominal", "title": "Visit"},
           "y": {"field": "hi", "type": "quantitative", "title": "PI"},
           "color": {"field": "visit", "type": "nominal", "legend": null}}},
        {"data": {"name": "D_br"}, "mark": {"type": "rule", "strokeWidth": 1.3, "color": "#333"},
         "encoding": {
           "x": {"field": "visit", "type": "nominal", "title": "Visit"}, "x2": {"field": "visit2"},
           "y": {"field": "level", "type": "quantitative", "title": "PI"}}},
        {"data": {"name": "D_br"}, "mark": {"type": "rule", "strokeWidth": 1.3, "color": "#333", "y2Offset": 4},
         "encoding": {
           "x": {"field": "visit", "type": "nominal", "title": "Visit"},
           "y": {"field": "level", "type": "quantitative", "title": "PI"}, "y2": {"field": "level"}}},
        {"data": {"name": "D_br"}, "mark": {"type": "rule", "strokeWidth": 1.3, "color": "#333", "y2Offset": 4},
         "encoding": {
           "x": {"field": "visit2", "type": "nominal", "title": "Visit"},
           "y": {"field": "level", "type": "quantitative", "title": "PI"}, "y2": {"field": "level"}}},
        {"data": {"name": "D_br"}, "mark": {"type": "text", "text": "*", "fontSize": 21, "fontWeight": "bold", "baseline": "alphabetic", "dy": 8, "color": "#222"},
         "encoding": {
           "x": {"field": "mid", "type": "nominal", "title": "Visit"},
           "y": {"field": "level", "type": "quantitative", "title": "PI"}}},
        {"data": {"values": [{"t": "D"}]}, "mark": {"type": "text", "align": "left", "baseline": "alphabetic", "dx": -104, "dy": -19, "fontSize": 21, "fontWeight": "bold", "color": "#000"},
         "encoding": {
           "x": {"datum": "T0", "type": "nominal", "title": "Visit"},
           "y": {"datum": 4, "type": "quantitative", "title": "PI"},
           "text": {"field": "t"}}}
      ]
    }
  ]
}
